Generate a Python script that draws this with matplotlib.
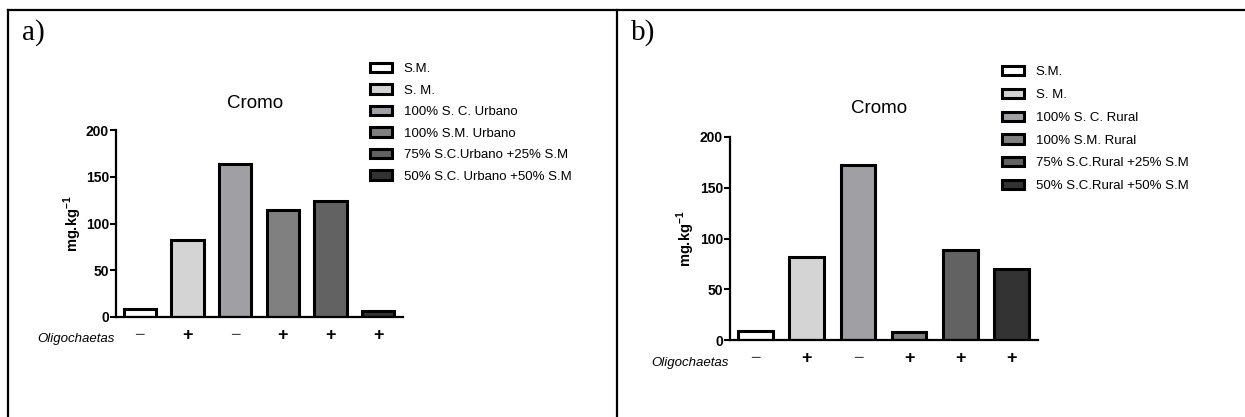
import matplotlib
matplotlib.use("Agg")
import matplotlib.pyplot as plt
from matplotlib.lines import Line2D

plt.rcParams['font.family'] = ['Liberation Sans', 'DejaVu Sans']
plt.rcParams['mathtext.fontset'] = 'custom'
plt.rcParams['mathtext.rm'] = 'Liberation Sans'
plt.rcParams['mathtext.bf'] = 'Liberation Sans:bold'

# data (mg/kg of chromium)
labels_a = ['S.M.', 'S. M.', '100% S. C. Urbano', '100% S.M. Urbano',
            '75% S.C.Urbano +25% S.M', '50% S.C. Urbano +50% S.M']
values_a = [9, 82, 164, 114, 124, 6]

labels_b = ['S.M.', 'S. M.', '100% S. C. Rural', '100% S.M. Rural',
            '75% S.C.Rural +25% S.M', '50% S.C.Rural +50% S.M']
values_b = [9, 82, 172, 8, 89, 70]

oligo = ['\u2212', '+', '\u2212', '+', '+', '+']
colors = ['#ffffff', '#d4d4d4', '#a0a0a4', '#808080', '#626262', '#333333']

W, H = 1245, 417
fig = plt.figure(figsize=(12.45, 4.17), dpi=100)


def px_axes(x0, x1, y_top, y_bot):
    return fig.add_axes([x0 / W, 1 - y_bot / H, (x1 - x0) / W, (y_bot - y_top) / H])


def panel(ax, values, labels, letter, letter_x, leg_x, leg_y, spacing, ylab_x):
    x = range(len(values))
    bars = ax.bar(x, values, width=0.68, color=colors, edgecolor='black',
                  linewidth=2.2, label=labels)
    ax.set_xlim(-0.5, 5.52)
    ax.set_ylim(0, 200)
    ax.set_yticks([0, 50, 100, 150, 200])
    ax.tick_params(axis='y', direction='out', length=4, width=1.5, labelsize=10, pad=1)
    for t in ax.get_yticklabels():
        t.set_fontweight('bold')
    ax.set_xticks(list(x))
    ax.set_xticklabels(oligo, fontsize=13)
    for t, s in zip(ax.get_xticklabels(), oligo):
        if s == '+':
            t.set_fontweight('bold')
        else:
            t.set_color('#444444')
    ax.tick_params(axis='x', length=0, pad=7)
    for s in ['top', 'right']:
        ax.spines[s].set_visible(False)
    for s in ['left', 'bottom']:
        ax.spines[s].set_linewidth(1.6)
    ax.set_ylabel(r'mg.kg$^{\mathbf{-1}}$', fontsize=10.5, fontweight='bold')
    ax.yaxis.set_label_coords(ylab_x, 0.5)
    ax.text(0.485, 1.14, 'Cromo', transform=ax.transAxes, ha='center',
            va='center', fontsize=13.5)
    ax.text(-0.005, -0.115, 'Oligochaetas', transform=ax.transAxes, ha='right',
            va='center', fontsize=9.5, style='italic')
    fig.text(letter_x / W, 1 - 40 / H, letter, fontsize=21,
             family='Liberation Serif', ha='left', va='baseline')
    handles = [bars[i] for i in range(len(values))]
    fig.legend(handles, labels, loc='upper left',
               bbox_to_anchor=(leg_x / W, 1 - leg_y / H), frameon=False,
               fontsize=9.5, handlelength=1.7, handleheight=0.7,
               handletextpad=0.85, labelspacing=spacing, borderpad=0,
               borderaxespad=0)


ax_a = px_axes(116, 403, 130, 317)
panel(ax_a, values_a, labels_a, 'a)', 22, 370, 63, 0.7, -0.112)

ax_b = px_axes(730, 1038, 137, 340)
panel(ax_b, values_b, labels_b, 'b)', 631, 1002, 66, 0.8, -0.108)

# table-like frame around the two panels
frame = dict(color='black', linewidth=1.6, transform=fig.transFigure)
fig.add_artist(Line2D([8 / W, 1], [1 - 10 / H, 1 - 10 / H], **frame))
fig.add_artist(Line2D([8 / W, 8 / W], [0, 1 - 10 / H], **frame))
fig.add_artist(Line2D([617 / W, 617 / W], [0, 1 - 10 / H], **frame))

fig.savefig('out.png', dpi=100)
